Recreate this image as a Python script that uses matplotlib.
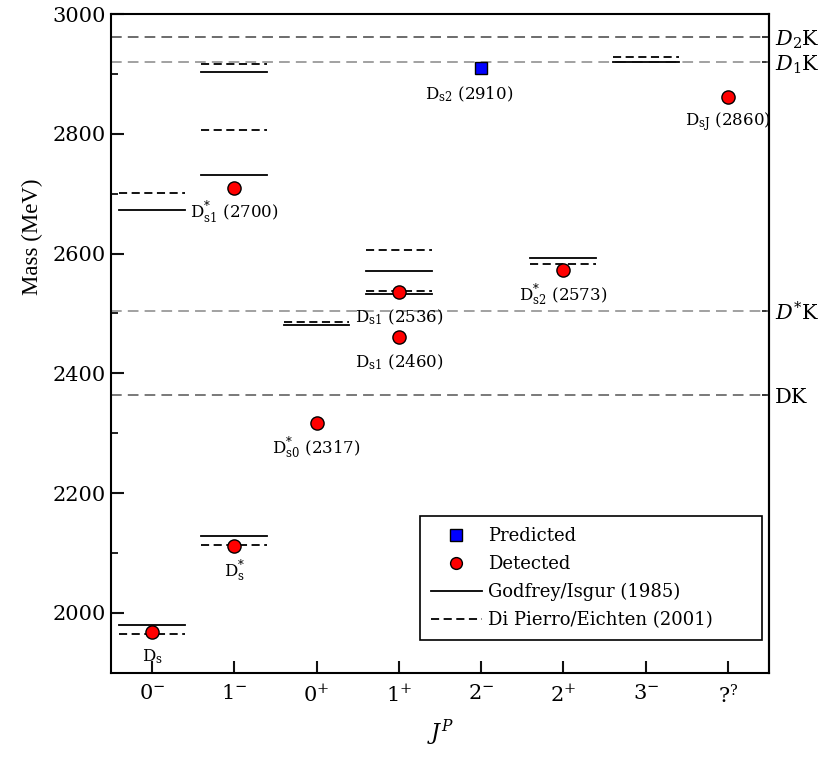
import numpy as np
import matplotlib.pyplot as plt
from matplotlib.lines import Line2D

plt.rcParams['font.family'] = 'DejaVu Serif'
plt.rcParams['mathtext.fontset'] = 'dejavuserif'

# J^P categories on the x axis
jp_labels = [r'0$^{-}$', r'1$^{-}$', r'0$^{+}$', r'1$^{+}$',
             r'2$^{-}$', r'2$^{+}$', r'3$^{-}$', r'?$^{?}$']

# model predictions: (column, mass)
gi_x = [0, 0, 1, 1, 1, 2, 3, 3, 5, 6]
gi_m = [1979, 2673, 2129, 2732, 2903, 2480, 2571, 2532, 2592, 2920]
dpe_x = [0, 0, 1, 1, 1, 2, 3, 3, 5, 6]
dpe_m = [1965, 2701, 2113, 2807, 2916, 2486, 2606, 2537, 2583, 2928]

# detected states
det_x = [0, 1, 1, 2, 3, 3, 5, 7]
det_m = [1968, 2112, 2710, 2317, 2536, 2460, 2573, 2862]
det_names = [r'D$_\mathrm{s}$', r'D$_\mathrm{s}^{*}$', r'D$_\mathrm{s1}^{*}$ (2700)',
             r'D$_\mathrm{s0}^{*}$ (2317)', r'D$_\mathrm{s1}$ (2536)', r'D$_\mathrm{s1}$ (2460)',
             r'D$_\mathrm{s2}^{*}$ (2573)', r'D$_\mathrm{sJ}$ (2860)']

# predicted states
pred_x = [4]
pred_m = [2910]
pred_names = [r'D$_\mathrm{s2}$ (2910)']

# thresholds
thr_m = [2363, 2504, 2920, 2961]
thr_names = [r'DK', r'$D^{*}$K', r'$D_1$K', r'$D_2$K']
thr_colors = ['#555555', '#888888', '#888888', '#444444']

fig = plt.figure(figsize=(8.27, 7.58), dpi=100)
ax = fig.add_axes([0.134, 0.1125, 0.796, 0.869])

half = 0.4
for x, m in zip(gi_x, gi_m):
    ax.plot([x - half, x + half], [m, m], color='black', lw=1.3, ls='-')
for x, m in zip(dpe_x, dpe_m):
    ax.plot([x - half, x + half], [m, m], color='black', lw=1.3, ls=(0, (4.5, 2.5)))

for m, c in zip(thr_m, thr_colors):
    ax.axhline(m, color=c, lw=1.1, ls=(0, (7, 4)), zorder=1)

ax.plot(det_x, det_m, 'o', color='red', mec='black', mew=1.0, ms=9.5, ls='none', zorder=5)
ax.plot(pred_x, pred_m, 's', color='blue', mec='black', mew=1.0, ms=9, ls='none', zorder=5)

for x, m, n in zip(det_x, det_m, det_names):
    ax.annotate(n, (x, m), xytext=(0, -25), textcoords='offset pixels',
                ha='center', va='center', fontsize=12)
for x, m, n in zip(pred_x, pred_m, pred_names):
    ax.annotate(n, (x, m), xytext=(-12, -26), textcoords='offset pixels',
                ha='center', va='center', fontsize=12)

ax.set_xlim(-0.5, 7.5)
ax.set_ylim(1900, 3000)
ax.set_xticks(np.arange(len(jp_labels)))
ax.set_xticklabels(jp_labels)
ax.set_yticks(np.arange(2000, 3001, 200))
ax.set_yticks(np.arange(1900, 3001, 100), minor=True)
ax.tick_params(which='major', direction='in', length=9, width=1.5, color='#111111',
               labelsize=15, left=True, bottom=True, right=False, top=False)
ax.tick_params(which='minor', direction='in', length=5, width=1.3, color='#111111',
               left=True, bottom=False, right=False, top=False)
ax.tick_params(axis='x', pad=8)
for s in ax.spines.values():
    s.set_linewidth(1.5)

ax.set_xlabel(r'$J^P$', fontsize=16)
ax.set_ylabel('Mass (MeV)', fontsize=16.5, family='Liberation Serif')
ax.xaxis.set_label_coords(0.5, -0.069)
ax.yaxis.set_label_coords(-0.103, 0.662)

# threshold names on the right side
ax2 = ax.secondary_yaxis('right')
ax2.set_yticks(thr_m)
ax2.set_yticklabels(thr_names, fontsize=15)
ax2.tick_params(direction='in', length=5, width=1.2, pad=4, color='#111111')
ax2.spines['right'].set_linewidth(1.5)

handles = [
    Line2D([], [], marker='s', color='blue', mec='black', mew=1.0, ms=8, ls='none'),
    Line2D([], [], marker='o', color='red', mec='black', mew=1.0, ms=8.5, ls='none'),
    Line2D([], [], color='black', lw=1.3, ls='-'),
    Line2D([], [], color='black', lw=1.3, ls=(0, (4.5, 2.5))),
]
labels = ['Predicted', 'Detected', 'Godfrey/Isgur (1985)', 'Di Pierro/Eichten (2001)']
leg = ax.legend(handles, labels, loc='lower left', bbox_to_anchor=(0.47, 0.05, 0.519, 0.19),
                mode='expand', fontsize=13, fancybox=False, edgecolor='black', framealpha=1,
                borderaxespad=0, handlelength=2.8, handletextpad=0.35, labelspacing=0.55,
                borderpad=0.6)
leg.get_frame().set_linewidth(1.2)

fig.savefig('out.png', dpi=100)
